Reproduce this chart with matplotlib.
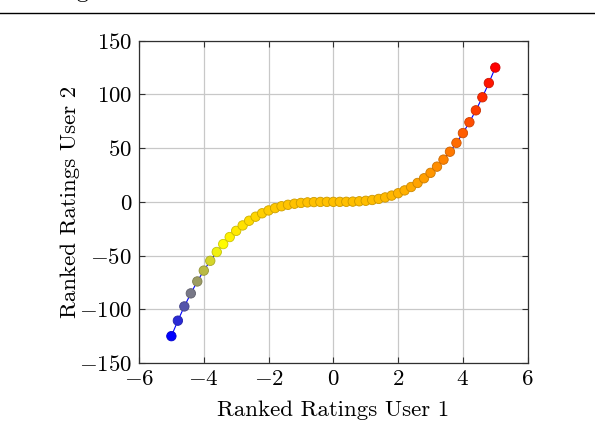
import numpy as np
import matplotlib
matplotlib.use("Agg")
import matplotlib.pyplot as plt
from matplotlib.colors import LinearSegmentedColormap
from matplotlib.lines import Line2D

plt.rcParams['font.family'] = 'serif'
plt.rcParams['font.serif'] = ['cmr10']
plt.rcParams['mathtext.fontset'] = 'cm'
plt.rcParams['axes.formatter.use_mathtext'] = True
plt.rcParams['axes.unicode_minus'] = True

# ranked ratings
user1 = [-5.0, -4.8, -4.6, -4.4, -4.2, -4.0, -3.8, -3.6, -3.4, -3.2,
         -3.0, -2.8, -2.6, -2.4, -2.2, -2.0, -1.8, -1.6, -1.4, -1.2,
         -1.0, -0.8, -0.6, -0.4, -0.2, 0.0, 0.2, 0.4, 0.6, 0.8,
         1.0, 1.2, 1.4, 1.6, 1.8, 2.0, 2.2, 2.4, 2.6, 2.8,
         3.0, 3.2, 3.4, 3.6, 3.8, 4.0, 4.2, 4.4, 4.6, 4.8, 5.0]
user2 = [-125.0, -110.59, -97.34, -85.18, -74.09, -64.0, -54.87, -46.66, -39.30, -32.77,
         -27.0, -21.95, -17.58, -13.82, -10.65, -8.0, -5.83, -4.10, -2.74, -1.73,
         -1.0, -0.51, -0.22, -0.06, -0.01, 0.0, 0.01, 0.06, 0.22, 0.51,
         1.0, 1.73, 2.74, 4.10, 5.83, 8.0, 10.65, 13.82, 17.58, 21.95,
         27.0, 32.77, 39.30, 46.66, 54.87, 64.0, 74.09, 85.18, 97.34, 110.59, 125.0]

x_ticks = [-6, -4, -2, 0, 2, 4, 6]
y_ticks = [-150, -100, -50, 0, 50, 100, 150]

# pgfplots "hot" colormap: blue, yellow, orange, red
hot = LinearSegmentedColormap.from_list("pgfhot", [(0, 0, 1), (1, 1, 0), (1, 0.5, 0), (1, 0, 0)])

fig = plt.figure(figsize=(5.95, 4.32), dpi=100)
ax = fig.add_axes([0.2336, 0.1597, 0.6533, 0.7461])

y = np.array(user2)
norm = (y - y.min()) / (y.max() - y.min())
fill = hot(norm)
edge = fill.copy()
edge[:, :3] *= 0.8

ax.plot(user1, user2, color='blue', lw=0.8, zorder=2)
ax.scatter(user1, user2, s=46, c=fill, edgecolors=edge, linewidths=0.6, zorder=3)

ax.set_xlim(-6, 6)
ax.set_ylim(-150, 150)
ax.set_xticks(x_ticks)
ax.set_yticks(y_ticks)
ax.grid(True, color='#c8c8c8', lw=0.9)
ax.set_axisbelow(True)
ax.tick_params(direction='in', top=True, right=True, length=4.5, width=0.8,
               labelsize=16.5, color='#303030', pad=5)
for s in ax.spines.values():
    s.set_color('#303030')
    s.set_linewidth(0.9)

ax.set_xlabel("Ranked Ratings User 1", fontsize=16.5, labelpad=8)
ax.set_ylabel("Ranked Ratings User 2", fontsize=16.5, labelpad=-1)

# page decoration above the figure
fig.add_artist(Line2D([0, 1], [1 - 13 / 432, 1 - 13 / 432], color='black', lw=1.0,
                      transform=fig.transFigure))
fig.text(0.128, 1.004, "g", fontsize=16.5, va='baseline', ha='left')

fig.savefig("out.png", dpi=100)
